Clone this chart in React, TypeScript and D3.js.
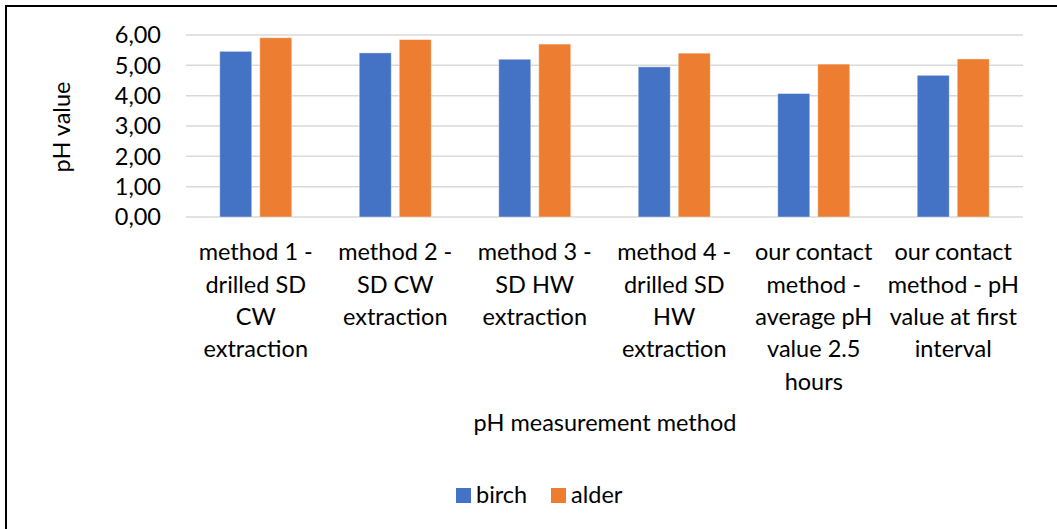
import React from "react";
import * as d3 from "d3";

// pH per measurement method, birch vs alder
const categories: string[][] = [
  ["method 1 -", "drilled SD", "CW", "extraction"],
  ["method 2 -", "SD CW", "extraction"],
  ["method 3 -", "SD HW", "extraction"],
  ["method 4 -", "drilled SD", "HW", "extraction"],
  ["our contact", "method -", "average pH", "value 2.5", "hours"],
  ["our contact", "method - pH", "value at first", "interval"],
];
const birch = [5.46, 5.41, 5.2, 4.95, 4.07, 4.67];
const alder = [5.91, 5.85, 5.7, 5.4, 5.04, 5.21];
const seriesNames = ["birch", "alder"];
const seriesColors = ["#4472C4", "#ED7D31"];
const yTicks = [0, 1, 2, 3, 4, 5, 6];

const W = 1057;
const H = 529;
const FONT = "Lato, 'Open Sans', sans-serif";
const FS = 23.5;

export default function App() {
  const left = 186;
  const right = 1023;
  const top = 35;
  const bottom = 217;

  const x0 = d3
    .scaleBand<number>()
    .domain(d3.range(categories.length))
    .range([left, right])
    .paddingInner(0)
    .paddingOuter(0);
  const inner = d3
    .scaleBand<number>()
    .domain([0, 1])
    .range([0, 72])
    .paddingInner(0.2);
  const y = d3.scaleLinear().domain([0, 6]).range([bottom, top]);
  const fmt = (v: number) => v.toFixed(2).replace(".", ",");
  const series = [birch, alder];

  return (
    <svg
      width={W}
      height={H}
      style={{ position: "absolute", left: 0, top: 0, background: "#fff" }}
      fontFamily={FONT}
    >
      <rect x={6} y={6} width={W + 10} height={H + 10} fill="#fff" stroke="#000" strokeWidth={2} />

      {/* gridlines */}
      {yTicks.map((t) => (
        <line key={t} x1={left} x2={right} y1={y(t)} y2={y(t)} stroke="#d9d9d9" strokeWidth={1.5} />
      ))}

      {/* y tick labels */}
      {yTicks.map((t) => (
        <text key={t} x={161} y={y(t)} dy="0.36em" textAnchor="end" fontSize={FS} fill="#000">
          {fmt(t)}
        </text>
      ))}

      {/* bars */}
      {categories.map((_, i) => {
        const cx = x0(i)! + x0.bandwidth() / 2;
        return series.map((vals, s) => (
          <rect
            key={`${i}-${s}`}
            x={cx - 36 + inner(s)!}
            y={y(vals[i])}
            width={inner.bandwidth()}
            height={y(0) - y(vals[i])}
            fill={seriesColors[s]}
            stroke="#fff"
            strokeOpacity={0.4}
            strokeWidth={1}
          />
        ));
      })}

      {/* category labels */}
      {categories.map((lines, i) => {
        const cx = x0(i)! + x0.bandwidth() / 2;
        return (
          <text key={i} x={cx} textAnchor="middle" fontSize={FS} fill="#000">
            {lines.map((ln, k) => (
              <tspan key={k} x={cx} y={252 + k * 32.3} dy="0.36em">
                {ln}
              </tspan>
            ))}
          </text>
        );
      })}

      {/* axis titles */}
      <text x={605} y={423} dy="0.36em" textAnchor="middle" fontSize={FS} fill="#000">
        pH measurement method
      </text>
      <text
        transform={`translate(62,127) rotate(-90)`}
        dy="0.36em"
        textAnchor="middle"
        fontSize={FS}
        fill="#000"
      >
        pH value
      </text>

      {/* legend */}
      {seriesNames.map((n, s) => {
        const lx = [456, 551][s];
        return (
          <g key={n}>
            <rect x={lx} y={488} width={15} height={15} fill={seriesColors[s]} />
            <text x={lx + 20} y={495} dy="0.36em" fontSize={FS} fill="#000">
              {n}
            </text>
          </g>
        );
      })}
    </svg>
  );
}
